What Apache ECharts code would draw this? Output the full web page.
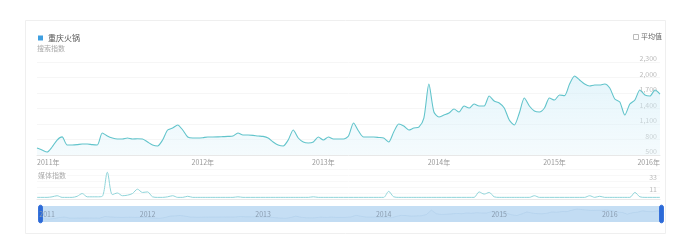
<!DOCTYPE html>
<html>
<head>
<meta charset="utf-8">
<script src="https://cdn.jsdelivr.net/npm/echarts@6/dist/echarts.min.js"></script>
<style>
html,body{margin:0;padding:0;background:#fff;}
#c{width:690px;height:243px;}
</style>
</head>
<body>
<div id="c"></div>
<script>
// ---- data ----
const seriesName = '重庆火锅';
const searchValues = [
 635,597,558,655,790,850,694,694,700,713,
 713,700,694,926,868,829,810,810,829,810,
 815,810,752,694,674,790,984,1022,1081,984,
 848,829,829,835,848,848,850,855,860,868,
 926,887,887,880,868,860,829,752,694,674,
 790,984,829,752,732,752,848,790,848,810,
 810,810,868,1119,964,848,848,848,840,829,
 752,945,1100,1060,984,1022,1040,1216,1874,1332,
 1235,1274,1313,1390,1332,1448,1409,1487,1448,1448,
 1642,1545,1506,1409,1177,1081,1313,1603,1448,1351,
 1332,1409,1603,1564,1661,1650,1874,2029,1951,1874,
 1835,1855,1855,1874,1796,1584,1526,1274,1487,1564,
 1758,1661,1642,1758,1680];
const mediaValues = [
 3,3,3,4,6,3,3,3,5,10,
 4,4,4,5,49,8,11,6,7,10,
 18,12,13,4,3,3,4,6,3,3,
 5,3,3,3,3,3,3,3,3,3,
 4,3,3,3,3,3,3,3,3,3,
 3,3,3,3,3,4,3,3,3,3,
 3,3,3,3,3,3,3,3,3,3,
 14,4,3,3,3,3,3,3,3,3,
 3,3,3,3,3,3,3,3,13,9,
 12,4,3,3,3,3,3,3,3,6,
 3,3,3,3,3,3,3,3,3,3,
 6,3,5,3,3,3,3,3,3,12,
 4,3,3,3,3];
const categories = searchValues.map((_, i) => String(i));
const mainTickIdx = [0, 33, 57, 80, 103, 124];
const mainTickLabels = ['2011年','2012年','2013年','2014年','2015年','2016年'];
const sliderTickIdx = [2, 22, 45, 69, 92, 114];
const sliderTickLabels = ['2011','2012','2013','2014','2015','2016'];
const searchYTicks = {min: 500, max: 2300, interval: 300};
const mediaYTicks = {min: 0, max: 55, interval: 11};
const mediaShownLabels = [11, 33];

const FONT = '"Noto Sans CJK SC", "Noto Sans", sans-serif';
const chart = echarts.init(document.getElementById('c'), null, {renderer: 'canvas'});
chart.setOption({
  animation: false,
  textStyle: {fontFamily: FONT},
  legend: {
    left: 33, top: 29, icon: 'rect', itemWidth: 5, itemHeight: 5, itemGap: 4,
    textStyle: {fontSize: 8, color: '#555', fontFamily: FONT},
    data: [{name: seriesName, itemStyle: {color: '#3f9fe0'}}],
    selectedMode: false
  },
  graphic: [
    {type: 'rect', shape: {x: 25.5, y: 20.5, width: 640, height: 213}, style: {fill: 'none', stroke: '#efefef', lineWidth: 1}, silent: true, z: -1},
    {type: 'text', left: 37, top: 45, style: {text: '搜索指数', fontSize: 7, fill: '#aaa', fontFamily: FONT}},
    {type: 'text', left: 37, top: 172, z: 100, style: {text: '媒体指数', fontSize: 7, fill: '#aaa', fontFamily: FONT, backgroundColor: '#fff', padding: [0, 1]}},
    {type: 'rect', shape: {x: 633.5, y: 34.5, width: 5, height: 5}, style: {fill: '#fff', stroke: '#bbb', lineWidth: 1}},
    {type: 'text', left: 641, top: 33, style: {text: '平均值', fontSize: 7, fill: '#666', fontFamily: FONT}}
  ],
  grid: [
    {left: 37, right: 30, top: 62, height: 93},
    {left: 37, right: 30, top: 169, height: 30},
    {left: 37, right: 30, top: 206, height: 16}
  ],
  xAxis: [
    {
      type: 'category', gridIndex: 0, data: categories, boundaryGap: false,
      axisLine: {lineStyle: {color: '#e8e8e8'}}, axisTick: {show: false},
      splitLine: {show: false},
      axisLabel: {
        interval: (i) => mainTickIdx.includes(i),
        formatter: (v, i) => mainTickLabels[mainTickIdx.indexOf(i)] || '',
        fontSize: 7, color: '#999', margin: 4, hideOverlap: false,
        alignMinLabel: 'left', alignMaxLabel: 'right', fontFamily: FONT
      }
    },
    {
      type: 'category', gridIndex: 1, data: categories, boundaryGap: false,
      axisLine: {lineStyle: {color: '#e8e8e8'}}, axisTick: {show: false},
      axisLabel: {show: false}, splitLine: {show: false}
    },
    {
      type: 'category', gridIndex: 2, data: categories, boundaryGap: false,
      axisLine: {show: false}, axisTick: {show: false}, splitLine: {show: false},
      z: 20,
      axisLabel: {
        inside: true, margin: 4,
        interval: (i) => sliderTickIdx.includes(i),
        formatter: (v, i) => sliderTickLabels[sliderTickIdx.indexOf(i)] || '',
        fontSize: 7, color: '#8a9cb0', hideOverlap: false, fontFamily: FONT
      }
    }
  ],
  yAxis: [
    {
      type: 'value', gridIndex: 0, position: 'right',
      min: searchYTicks.min, max: searchYTicks.max, interval: searchYTicks.interval,
      axisLine: {show: false}, axisTick: {show: false},
      splitLine: {lineStyle: {color: '#f6f6f6'}},
      axisLabel: {
        inside: true, margin: 3, verticalAlign: 'bottom', fontSize: 7, color: '#bbb',
        formatter: (v) => v.toLocaleString('en-US'), fontFamily: FONT
      }
    },
    {
      type: 'value', gridIndex: 1, position: 'right',
      min: mediaYTicks.min, max: mediaYTicks.max, interval: mediaYTicks.interval,
      axisLine: {show: false}, axisTick: {show: false},
      splitLine: {lineStyle: {color: '#f8f8f8'}},
      axisLabel: {
        inside: true, margin: 3, verticalAlign: 'bottom', fontSize: 7, color: '#bbb',
        formatter: (v) => mediaShownLabels.includes(v) ? String(v) : '', fontFamily: FONT
      }
    },
    {type: 'value', gridIndex: 2, show: false, min: 0, max: 1}
  ],
  dataZoom: [{
    type: 'slider', xAxisIndex: [0, 1], start: 0, end: 100,
    left: 37, right: 30, top: 206, height: 16,
    backgroundColor: 'rgba(200,225,245,0.35)',
    fillerColor: 'rgba(150,196,236,0.45)',
    borderColor: 'transparent',
    showDetail: false, brushSelect: false, moveHandleSize: 0,
    handleIcon: 'path://M3,0 C4.7,0 6,1 6,3 L6,25 C6,27 4.7,28 3,28 C1.3,28 0,27 0,25 L0,3 C0,1 1.3,0 3,0 Z',
    handleSize: '110%',
    handleStyle: {color: '#2c6ad8', borderColor: '#2c6ad8'},
    emphasis: {handleStyle: {color: '#2c6ad8', borderColor: '#2c6ad8'}},
    dataBackground: {lineStyle: {color: 'rgba(110,150,195,0.35)', width: 0.5}, areaStyle: {color: 'rgba(110,150,195,0.2)'}},
    selectedDataBackground: {lineStyle: {color: 'rgba(110,150,195,0.35)', width: 0.5}, areaStyle: {color: 'rgba(110,150,195,0.2)'}},
    textStyle: {color: 'transparent'}
  }],
  series: [
    {
      name: seriesName, type: 'line', xAxisIndex: 0, yAxisIndex: 0,
      data: searchValues, symbol: 'none', smooth: 0.25,
      lineStyle: {color: '#62c4cb', width: 1.1},
      itemStyle: {color: '#62c4cb'},
      areaStyle: {
        color: new echarts.graphic.LinearGradient(0, 0, 0, 1, [
          {offset: 0, color: 'rgba(200,234,247,0.7)'},
          {offset: 1, color: 'rgba(228,245,251,0.55)'}
        ])
      }
    },
    {
      name: '媒体指数', type: 'line', xAxisIndex: 1, yAxisIndex: 1,
      data: mediaValues, symbol: 'none', smooth: 0.3,
      lineStyle: {color: '#8fd4d9', width: 1},
      itemStyle: {color: '#8fd4d9'}
    }
  ]
});
</script>
</body>
</html>
